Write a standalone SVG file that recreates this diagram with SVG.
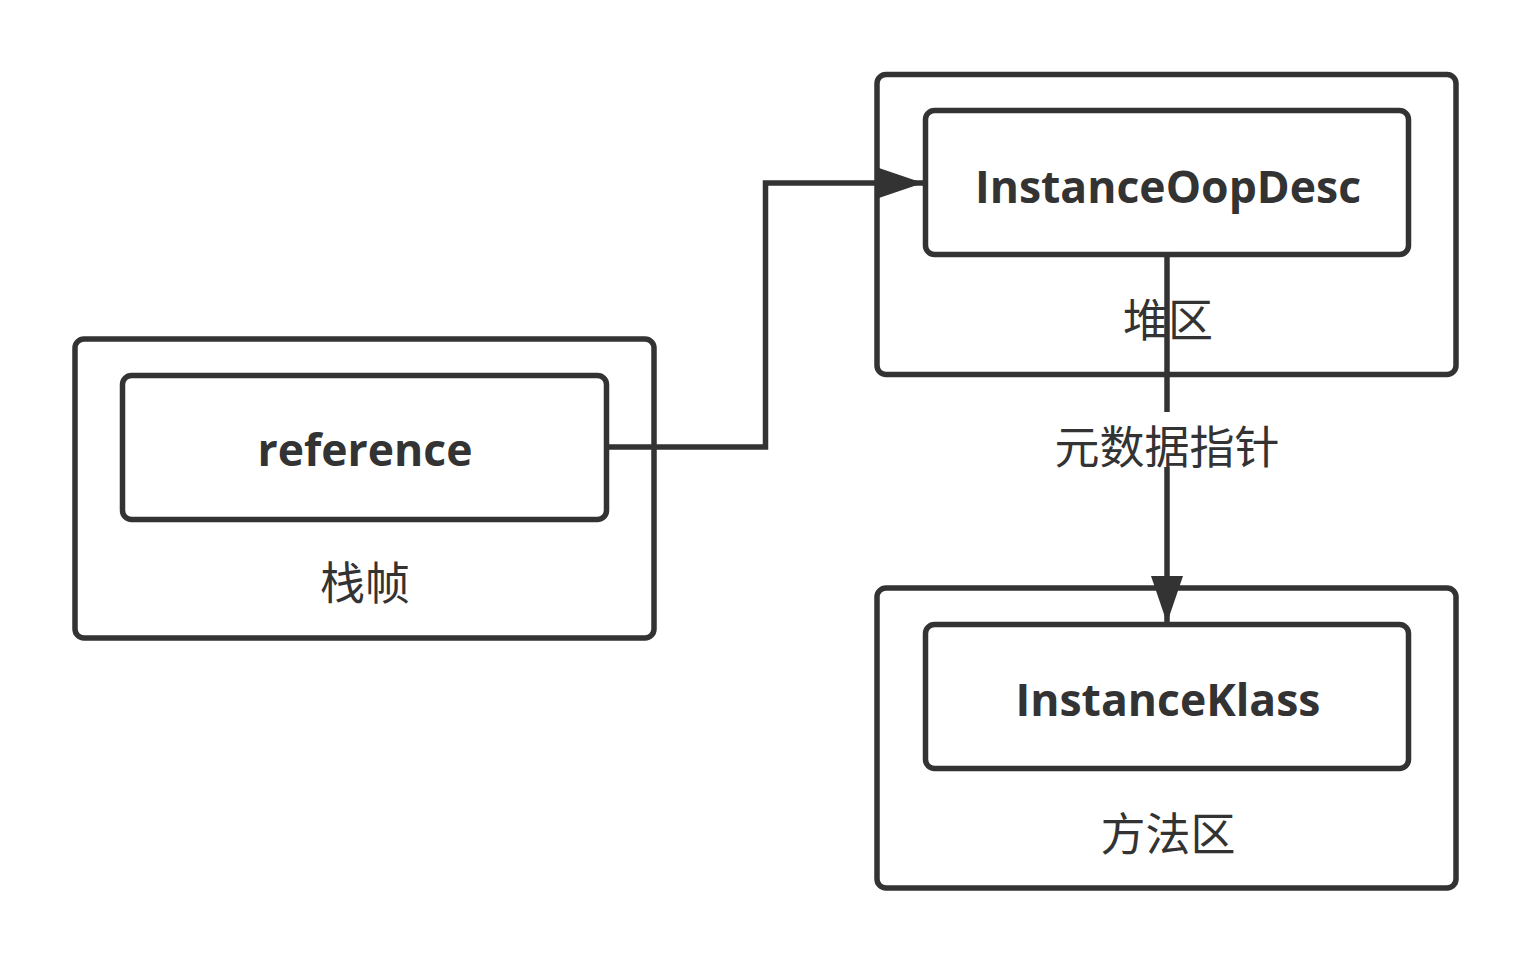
<svg xmlns="http://www.w3.org/2000/svg" width="1531" height="963" viewBox="0 0 1531 963">
<style>
.box{fill:#ffffff;stroke:#333333;stroke-width:5.5}
.edge{fill:none;stroke:#333333;stroke-width:5.5}
.t{font-family:"Open Sans","Noto Sans",sans-serif;font-weight:bold;font-size:44.5px;fill:#333333;text-anchor:middle}
.c{font-family:"Noto Sans CJK SC",sans-serif;font-size:45px;fill:#333333;text-anchor:middle}
</style>
<defs>
<marker id="ah" markerUnits="userSpaceOnUse" markerWidth="48" markerHeight="32" refX="47" refY="16" orient="auto">
<path d="M0,0 L47,16 L0,32 Z" fill="#333333"/>
</marker>
</defs>
<rect width="1531" height="963" fill="#ffffff"/>
<g id="stack-frame">
<rect class="box" x="75" y="339" width="579" height="299" rx="9"/>
<text class="c" x="365" y="600">栈帧</text>
</g>
<g id="reference">
<rect class="box" x="122.5" y="375.5" width="484" height="144" rx="9"/>
<text class="t" x="365" y="466">reference</text>
</g>
<g id="heap">
<rect class="box" x="877" y="74.5" width="579" height="300" rx="9"/>
<text class="c" x="1168" y="337">堆区</text>
</g>
<g id="instance-oop-desc">
<rect class="box" x="925.5" y="110.5" width="483" height="144" rx="9"/>
<text class="t" x="1168" y="203">InstanceOopDesc</text>
</g>
<g id="method-area">
<rect class="box" x="877" y="588" width="579" height="300" rx="9"/>
<text class="c" x="1168" y="851">方法区</text>
</g>
<g id="instance-klass">
<rect class="box" x="925.5" y="624.5" width="483" height="144" rx="9"/>
<text class="t" x="1168" y="716">InstanceKlass</text>
</g>
<g id="connectors">
<path class="edge" d="M606.5,447 L765.5,447 L765.5,183 L923,183" marker-end="url(#ah)"/>
<path class="edge" d="M1167,254.5 L1167,623" marker-end="url(#ah)"/>
<rect x="1050" y="412" width="234" height="55" fill="#ffffff"/>
<text class="c" x="1167" y="464">元数据指针</text>
</g>
</svg>
